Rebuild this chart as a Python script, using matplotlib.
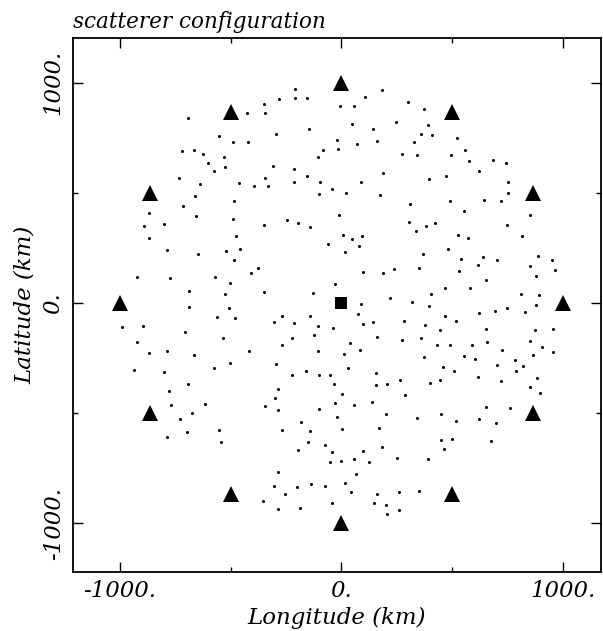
#!/usr/bin/env python3
"""
Scatterer configuration: stations on a ring, source at the centre, scatterers in between.
"""

import matplotlib
matplotlib.use('Agg')
import matplotlib.pyplot as plt

# station ring (km)
station_x = [0, 500, 866, 1000, 866, 500, 0, -500, -866, -1000, -866, -500]
station_y = [1000, 866, 500, 0, -500, -866, -1000, -866, -500, 0, 500, 866]

# source (km)
source_x = [0]
source_y = [0]

# scatterer positions (km)
scat_x = [
    -425, -692, -553, -489, -422, -720, -665, -625, -532, -604, -527, -576,
    -732, -640, -464, -396, -663, -485, -714, -869, -656, -491, -801, -893,
    -211, 184, 106, -351, -281, -210, -154, 302, -5, 55, -345, 247, 46, -148,
    142, -297, -20, 159, 327, 69, -82, -14, 273, -107, -311, -213, -345, -154,
    189, -332, -213, -98, 87, -44, -102, 20, 174, 308, -11, -247, -198, -142,
    -349, 303,
    374, 389, 358, 407, 521, 558, 342, 493, 577, 684, 743, 621, 395, 472, 753,
    752, 489, 643, 721, 553, 850, 422, 383, 749,
    -869, -475, -787, -647, -521, -457, -485, -376, -923, -774, -571, -409,
    -503, -687, -525, -690, -508, -563, -481, -992, -898, -705, -535, -923,
    -868, -787, -666, -418, -936, -800, -574, -502, -692,
    8, 49, 91, -62, 80, 17, 98, 187, 236, -29, -351, -127, 218, 317, 88, 73,
    -267, -141, -306, -216, -105, -38, 96, 144, 284, -126, -225, 159, -270,
    40, 272, -107, 82, 10, -296, 28, -162, -225, -102, -53, 154, 265, -34, 207,
    336, 525, 571, 815, 481, 369, 541, 639, 701, 889, 949, 350, 532, 618, 850,
    964, 878, 654, 469, 580, 404, 810, 890, 396, 880, 621, 694, 749, 830, 469,
    517, 376, 445, 651, 875, 956, 358, 658, 851, 430, 490, 591, 726, 905, 954,
    374, 553, 601, 782, 866, 457, 507, 701, 788, 821, 398, 445, 618, 721, 884,
    -780, -770, -616, -676, -729, -698, -552, -544, -789,
    -285, 156, 4, -299, 287, -344, -285, -28, 58, 136, -100, 202, -22, -182,
    -270, -142, 4, 171, -150, -73, -198, -44, 96, 184, 251, -52, -2, 56, 126,
    -288, 64, -305, -201, -139, -76, 16, -256, 43, 162, 258, -353, -42, 147,
    200, -287, -186, 260, 207,
    852, 898, 654, 759, 449, 341, 518, 622, 699, 449, 498, 674, 464, 391, 349,
]
scat_y = [
    862, 838, 757, 730, 730, 689, 692, 676, 662, 636, 618, 599,
    567, 541, 543, 531, 487, 464, 439, 410, 395, 381, 357, 349,
    972, 966, 936, 902, 924, 930, 930, 912, 895, 895, 862, 819, 810, 790,
    788, 766, 739, 733, 730, 720, 695, 698, 674, 662, 620, 606, 568, 577,
    591, 531, 550, 547, 550, 517, 493, 500, 490, 449, 399, 378, 361, 343,
    352, 366,
    878, 809, 768, 762, 750, 692, 673, 670, 645, 647, 634, 600, 562, 575, 547,
    497, 461, 466, 464, 419, 400, 361, 349, 352,
    296, 302, 239, 224, 237, 245, 194, 160, 119, 112, 119, 136,
    91, 53, 41, -17, -23, -63, -69, -110, -103, -130, -160, -176,
    -225, -218, -234, -216, -302, -313, -296, -272, -366,
    310, 292, 304, 268, 257, 231, 141, 137, 156, 85, 49, 47, 21, 6, -6, -50,
    -59, -59, -86, -91, -104, -112, -94, -88, -83, -146, -160, -154, -189,
    -183, -169, -218, -213, -233, -275, -293, -308, -325, -328, -328, -317,
    -348, -366, -367,
    325, 310, 296, 304, 244, 221, 200, 207, 196, 215, 196, 159, 144, 171, 169,
    148, 122, 103, 67, 68, 41, 41, 38, -12, -8, -45, -36, -23, -39, -59,
    -82, -101, -122, -119, -121, -118, -160, -176, -171, -192, -189, -189,
    -212, -201, -221,
    -244, -239, -254, -257, -237, -289, -308, -283, -308, -284, -361, -351,
    -334, -355, -340,
    -400, -461, -457, -500, -526, -584, -576, -629, -609,
    -391, -373, -413, -429, -417, -466, -484, -455, -463, -450, -482, -503,
    -516, -540, -575, -579, -571, -566, -629, -645, -665, -677, -670, -654,
    -702, -721, -715, -709, -722, -766, -777, -831, -833, -822, -829, -815,
    -865, -856, -868, -856, -897, -906, -908, -916, -933, -930, -939, -957,
    -382, -410, -470, -478, -502, -523, -536, -527, -544, -623, -617, -627,
    -663, -706, -853,
]

tick_values = [-1000, 0, 1000]
tick_labels = ['-1000.', '0.', '1000.']

plt.rcParams['font.family'] = ['DejaVu Serif']
plt.rcParams['font.style'] = 'italic'

fig = plt.figure(figsize=(6.03, 6.31), dpi=100)
ax = fig.add_axes([73 / 603, 59 / 631, 528 / 603, 534 / 631])

ax.plot(scat_x, scat_y, 'o', color='black', markersize=2.2, markeredgewidth=0)
ax.plot(station_x, station_y, '^', color='black', markersize=11, markeredgewidth=0)
ax.plot(source_x, source_y, 's', color='black', markersize=8.5, markeredgewidth=0)

ax.set_xlim(-1212, 1172)
ax.set_ylim(-1220, 1202)

ax.set_xticks(tick_values)
ax.set_xticklabels(tick_labels, fontsize=16.5)
ax.set_yticks(tick_values)
ax.set_yticklabels(tick_labels, fontsize=16.5, rotation=90, va='center')
ax.set_xticks([-500, 500], minor=True)
ax.set_yticks([-500, 500], minor=True)
ax.tick_params(which='both', direction='in', top=True, right=True, width=1)
ax.tick_params(which='major', length=7, pad=6)
ax.tick_params(which='minor', length=3.5)
for spine in ax.spines.values():
    spine.set_linewidth(1.3)

ax.set_xlabel('Longitude (km)', fontsize=16.5, labelpad=3)
ax.set_ylabel('Latitude (km)', fontsize=16.5, labelpad=5)
ax.set_title('scatterer configuration', fontsize=15.5, loc='left', pad=7)

plt.savefig('out.png', dpi=100)
plt.close()
